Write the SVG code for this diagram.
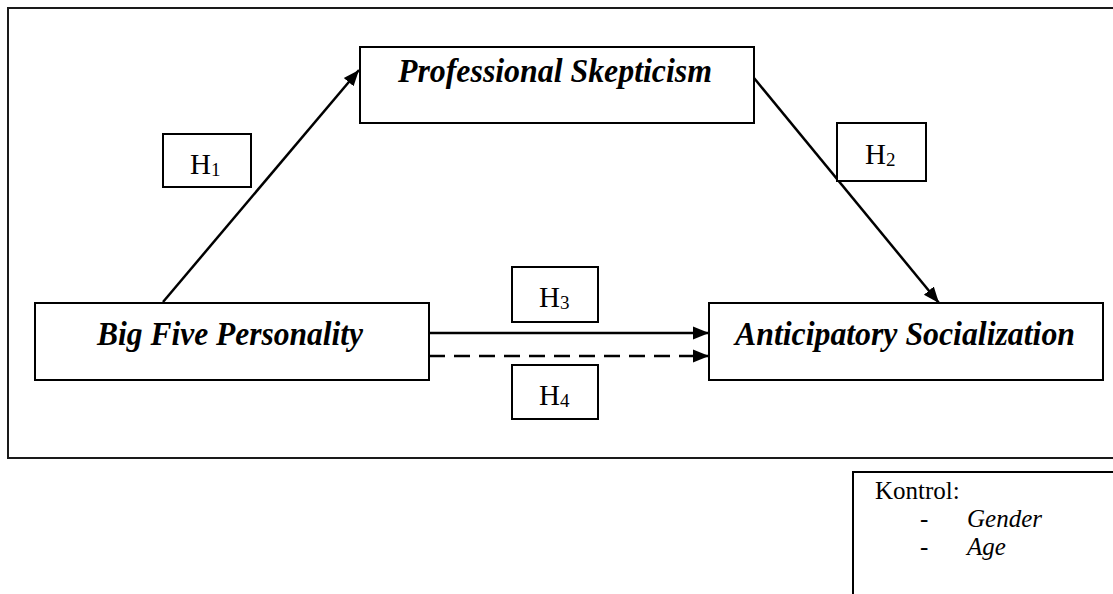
<svg xmlns="http://www.w3.org/2000/svg" width="1113" height="594" viewBox="0 0 1113 594">
<defs>
<style>
.box{fill:#fff;stroke:#000;stroke-width:2}
.frame{fill:none;stroke:#1a1a1a;stroke-width:2}
.node{font-family:"Liberation Serif","Times New Roman",serif;font-weight:bold;font-style:italic;font-size:34px;fill:#000;text-anchor:start}
.h{font-family:"Liberation Serif","Times New Roman",serif;font-size:29px;fill:#000}
.sub{font-size:19px}
.k{font-family:"Liberation Serif","Times New Roman",serif;font-size:25px;fill:#000}
.line{stroke:#000;stroke-width:2.5;fill:none}
</style>
<marker id="arrH" viewBox="0 0 10 10" refX="10" refY="5" markerWidth="16" markerHeight="16" markerUnits="userSpaceOnUse" orient="auto">
<path d="M0,1 L10,5 L0,9 z" fill="#000"/>
</marker>
</defs>
<rect width="1113" height="594" fill="#fff"/>
<path class="frame" d="M1120,8 H8 V458 H1120"/>

<g id="connectors">
<line class="line" x1="163" y1="302" x2="359" y2="70" marker-end="url(#arrH)"/>
<line class="line" x1="754" y1="78" x2="939" y2="303" marker-end="url(#arrH)"/>
<line class="line" x1="429" y1="333" x2="709" y2="333" marker-end="url(#arrH)"/>
<line class="line" x1="429" y1="356" x2="709" y2="356" stroke-dasharray="16 9" marker-end="url(#arrH)"/>
</g>

<g id="node-ps">
<rect class="box" x="360" y="47" width="394" height="76"/>
<text class="node" x="398" y="82" textLength="314" lengthAdjust="spacingAndGlyphs">Professional Skepticism</text>
</g>
<g id="node-bf">
<rect class="box" x="35" y="303" width="394" height="77"/>
<text class="node" x="97" y="345" textLength="266" lengthAdjust="spacingAndGlyphs">Big Five Personality</text>
</g>
<g id="node-as">
<rect class="box" x="709" y="303" width="394" height="77"/>
<text class="node" x="735" y="345" textLength="340" lengthAdjust="spacingAndGlyphs">Anticipatory Socialization</text>
</g>

<g id="label-h1">
<rect class="box" x="163" y="134" width="88" height="53"/>
<text class="h" x="190" y="174">H<tspan class="sub" dy="2">1</tspan></text>
</g>
<g id="label-h2">
<rect class="box" x="837" y="123" width="89" height="58"/>
<text class="h" x="865" y="164">H<tspan class="sub" dy="2">2</tspan></text>
</g>
<g id="label-h3">
<rect class="box" x="512" y="267" width="86" height="55"/>
<text class="h" x="539" y="307">H<tspan class="sub" dy="2">3</tspan></text>
</g>
<g id="label-h4">
<rect class="box" x="512" y="365" width="86" height="54"/>
<text class="h" x="539" y="405">H<tspan class="sub" dy="2">4</tspan></text>
</g>

<g id="kontrol">
<rect class="box" x="853" y="472" width="280" height="140"/>
<text class="k" x="875" y="499">Kontrol:</text>
<text class="k" x="920" y="527">-</text>
<text class="k" x="967" y="527" font-style="italic">Gender</text>
<text class="k" x="920" y="555">-</text>
<text class="k" x="967" y="555" font-style="italic">Age</text>
</g>
</svg>
